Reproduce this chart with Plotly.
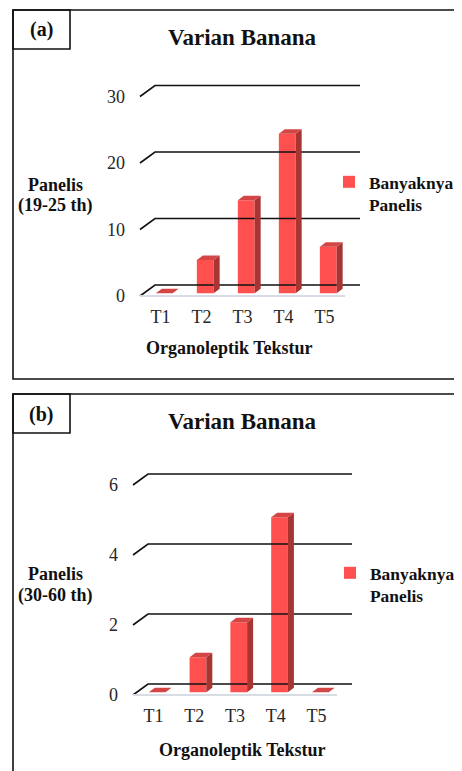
import plotly.graph_objects as go

# data
categories = ["T1", "T2", "T3", "T4", "T5"]
panelis_19_25 = [0, 5, 14, 24, 7]
panelis_30_60 = [0, 1, 2, 5, 0]
ticks_19_25 = [0, 10, 20, 30]
ticks_30_60 = [0, 2, 4, 6]

# the page body keeps its default 8px margin, so the figure is drawn 8px in
SCREEN_W, SCREEN_H = 462, 771
OFF = 8
W, H = SCREEN_W - OFF, SCREEN_H - OFF
FONT = "Liberation Serif"
FRONT = "#FF5050"
SIDE = "#A83434"
TOP = "#D44545"
GRID = "#111111"
FLOOR = "#D8DCE4"
INK = "#111111"

# depth of the fake 3d box, in pixels, and where the bars sit inside it
DEPTH_PX = (15, 11)
T_FRONT, T_BACK = 0.25, 0.65
HALF = 0.205


def px(x):
    # screen x -> paper
    return (x - OFF) / W


def py(y):
    # screen y -> paper
    return 1 - (y - OFF) / H


panels = [
    dict(values=panelis_19_25, ticks=ticks_19_25, tag="(a)",
         ytitle=["Panelis", "(19-25 th)"], ytitle_y=(185, 205),
         x0=140, y0=296, cat_px=41, scale=6.65, top=60,
         box_top=10, box_bottom=379, title_y=37, xtitle=(229, 348),
         legend_xy=(329, 164)),
    dict(values=panelis_30_60, ticks=ticks_30_60, tag="(b)",
         ytitle=["Panelis", "(30-60 th)"], ytitle_y=(574, 595),
         x0=133, y0=695, cat_px=40.8, scale=35, top=450,
         box_top=394, box_bottom=800, title_y=421, xtitle=(242, 750),
         legend_xy=(330, 555)),
]

fig = go.Figure()
idx = list(range(1, len(categories) + 1))


def label(text, x, y, size):
    fig.add_annotation(text=text, xref="paper", yref="paper", x=px(x), y=py(y),
                       xanchor="center", yanchor="middle", showarrow=False,
                       font=dict(family=FONT, size=size, color=INK))


for k, p in enumerate(panels, start=1):
    xa = "x" if k == 1 else "x%d" % k
    ya = "y" if k == 1 else "y%d" % k
    leg = "legend" if k == 1 else "legend%d" % k
    dxf = DEPTH_PX[0] / p["cat_px"]
    dyf = DEPTH_PX[1] / p["scale"]
    vals = p["values"]

    # gridlines: short slant from the front corner, then along the back wall
    gx, gy = [], []
    for t in p["ticks"]:
        gx += [0.5, 0.5 + dxf, len(idx) + 0.5 + dxf, None]
        gy += [t, t + dyf, t + dyf, None]
    fig.add_trace(go.Scatter(x=gx, y=gy, mode="lines", line=dict(color=GRID, width=1.6),
                             hoverinfo="skip", showlegend=False, xaxis=xa, yaxis=ya))
    fig.add_trace(go.Scatter(x=[0.5, len(idx) + 0.5], y=[0, 0], mode="lines",
                             line=dict(color=FLOOR, width=2), hoverinfo="skip",
                             showlegend=False, xaxis=xa, yaxis=ya))

    # front faces of the bars
    fig.add_trace(go.Bar(x=[i + T_FRONT * dxf for i in idx], y=vals, base=T_FRONT * dyf,
                         width=2 * HALF, marker=dict(color=FRONT, line_width=0),
                         name="<b>Banyaknya<br>Panelis</b>", legend=leg,
                         xaxis=xa, yaxis=ya))

    # side and top faces
    sx, sy, tx, ty = [], [], [], []
    for i, v in zip(idx, vals):
        r = i + HALF
        l = i - HALF
        sx += [r + T_FRONT * dxf, r + T_BACK * dxf, r + T_BACK * dxf, r + T_FRONT * dxf, None]
        sy += [T_FRONT * dyf, T_BACK * dyf, T_BACK * dyf + v, T_FRONT * dyf + v, None]
        tx += [l + T_FRONT * dxf, r + T_FRONT * dxf, r + T_BACK * dxf, l + T_BACK * dxf, None]
        ty += [T_FRONT * dyf + v, T_FRONT * dyf + v, T_BACK * dyf + v, T_BACK * dyf + v, None]
    fig.add_trace(go.Scatter(x=sx, y=sy, mode="lines", fill="toself", fillcolor=SIDE,
                             line=dict(width=0, color=SIDE), hoverinfo="skip",
                             showlegend=False, xaxis=xa, yaxis=ya))
    fig.add_trace(go.Scatter(x=tx, y=ty, mode="lines", fill="toself", fillcolor=TOP,
                             line=dict(width=0, color=TOP), hoverinfo="skip",
                             showlegend=False, xaxis=xa, yaxis=ya))

    # axes, scaled so one category / one unit land on the reference's pixels
    xlo = 0.5 - 4 / p["cat_px"]
    xhi = xlo + (SCREEN_W - (p["x0"] - 4)) / p["cat_px"]
    ylo = -4 / p["scale"]
    yhi = ylo + (p["y0"] + 4 - p["top"]) / p["scale"]
    fig.update_layout(**{
        ("xaxis" if k == 1 else "xaxis%d" % k): dict(
            domain=[px(p["x0"] - 4), 1], range=[xlo, xhi], anchor=ya,
            tickvals=idx, ticktext=categories, showgrid=False, zeroline=False,
            showline=False, ticks="", ticklabelstandoff=4,
            tickfont=dict(family=FONT, size=18, color="#262626")),
        ("yaxis" if k == 1 else "yaxis%d" % k): dict(
            domain=[py(p["y0"] + 4), py(p["top"])], range=[ylo, yhi], anchor=xa,
            tickvals=p["ticks"], ticktext=[str(t) for t in p["ticks"]],
            showgrid=False, zeroline=False, showline=False, ticks="",
            ticklabelstandoff=10,
            tickfont=dict(family=FONT, size=18, color="#262626")),
        leg: dict(x=px(p["legend_xy"][0]), y=py(p["legend_xy"][1]), xanchor="left",
                  yanchor="top", valign="top", bgcolor="rgba(0,0,0,0)",
                  font=dict(family=FONT, size=17.4, color=INK)),
    })

    # frame and the little tag box
    fig.add_shape(type="rect", xref="paper", yref="paper",
                  x0=px(13), x1=px(480), y0=py(p["box_bottom"]), y1=py(p["box_top"]),
                  line=dict(color=INK, width=1.6))
    fig.add_shape(type="rect", xref="paper", yref="paper",
                  x0=px(13), x1=px(70), y0=py(p["box_top"] + 39), y1=py(p["box_top"]),
                  line=dict(color=INK, width=1.6))
    label("<b>%s</b>" % p["tag"], 41, p["box_top"] + 20, 20)
    label("<b>Varian Banana</b>", 242, p["title_y"], 23)
    for line, yy in zip(p["ytitle"], p["ytitle_y"]):
        label("<b>%s</b>" % line, 55, yy, 18)
    label("<b>Organoleptik Tekstur</b>", p["xtitle"][0], p["xtitle"][1], 18)

fig.update_layout(
    width=W, height=H,
    margin=dict(l=0, r=0, t=0, b=0, autoexpand=False),
    paper_bgcolor="white", plot_bgcolor="white",
    barmode="overlay", showlegend=True,
)

fig.write_html("out.html")
